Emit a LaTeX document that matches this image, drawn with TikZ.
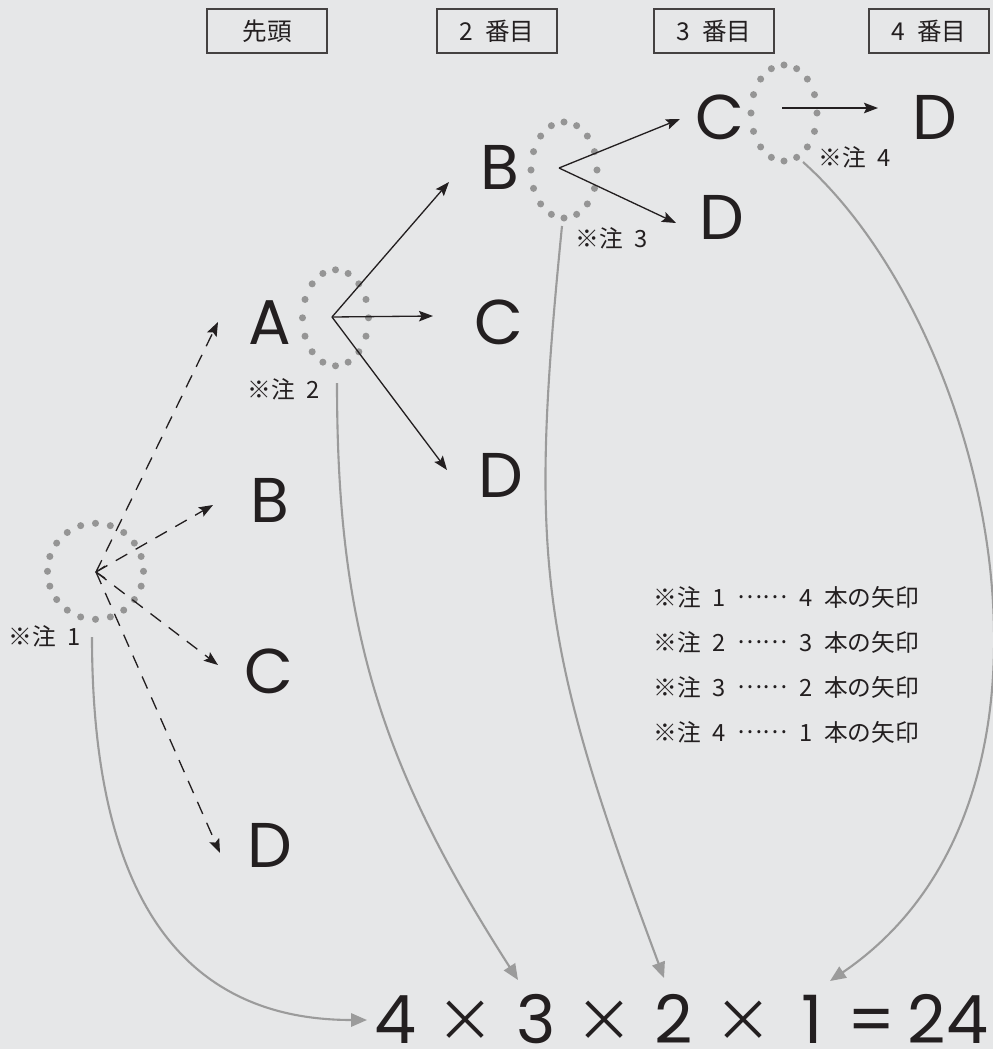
\documentclass[tikz,border=0pt]{standalone}
\usepackage{fontspec}
\usetikzlibrary{arrows.meta, calc}
\newfontfamily\jpfont[WordSpace=2.2]{Noto Sans CJK JP}
\newfontfamily\latinfont{Poppins}
\definecolor{bgc}{HTML}{E6E7E8}
\definecolor{ink}{HTML}{231F20}
\definecolor{dotc}{HTML}{959595}
\definecolor{linkc}{HTML}{9B9B9B}
\tikzset{
  ltr/.style={font=\latinfont\fontsize{36}{36}\selectfont, text=ink, inner sep=0pt},
  dig/.style={font=\latinfont\fontsize{38}{38}\selectfont, text=ink, inner sep=0pt, anchor=base},
  mul/.style={font=\jpfont\fontsize{33}{33}\selectfont, text=ink, inner sep=0pt},
  hdr/.style={draw=ink!85, line width=0.7pt, minimum width=2.4cm, minimum height=0.88cm, inner sep=0pt, font=\jpfont\fontsize{14}{14}\selectfont, text=ink},
  note/.style={font=\jpfont\fontsize{13.5}{13.5}\selectfont, text=ink, inner sep=0pt},
  fwd/.style={-{Stealth[length=8pt, width=6pt, inset=1.5pt]}, line width=0.75pt, draw=ink},
  cand/.style={fwd, dash pattern=on 7.5pt off 5.5pt},
  link/.style={-{Triangle[length=9pt, width=7.5pt]}, line width=1.2pt, draw=linkc}
}
% ring of grey dots: centre, x radius, y radius, number of dots
\newcommand{\dotring}[4]{%
  \foreach \k in {1,...,#4}
    \fill[dotc] ($(#1)+({#2*cos(360*\k/#4)},{#3*sin(360*\k/#4)})$) circle (2pt);
}
% six dots set at mid height
\newcommand{\midots}{\raisebox{0.3em}{……}}

\begin{document}
\begin{tikzpicture}[x=0.02cm, y=-0.02cm]
  \fill[bgc] (0,0) rectangle (993,1049);
  \useasboundingbox (0,0) rectangle (993,1049);
  % column headers
  \node[hdr] (h1) at (267,31) {先頭};
  \node[hdr] (h2) at (497,31) {2 番目};
  \node[hdr] (h3) at (714,31) {3 番目};
  \node[hdr] (h4) at (929,31) {4 番目};
  % letters
  \node[ltr] (a1) at (270,323) {A};
  \node[ltr] (b1) at (270,500) {B};
  \node[ltr] (c1) at (269,671) {C};
  \node[ltr] (d1) at (270,845) {D};
  \node[ltr] (b2) at (500,167) {B};
  \node[ltr] (c2) at (499,322) {C};
  \node[ltr] (d2) at (501,475) {D};
  \node[ltr] (c3) at (720,117) {C};
  \node[ltr] (d3) at (722,217) {D};
  \node[ltr] (d4) at (935,117) {D};
  % dotted rings
  \dotring{95.5,571.3}{48}{48}{20}
  \dotring{335.5,317.8}{33}{48}{16}
  \dotring{564,170}{33}{48}{16}
  \dotring{784,113}{33}{48}{16}
  % branch points
  \coordinate (f1) at (96,572);
  \coordinate (fA) at (332,317);
  \coordinate (fB) at (559,168);
  \coordinate (fC) at (782,108);
  \draw[ink, line width=0.6pt] ($(f1)+(9,-6)$) -- (f1) -- ($(f1)+(9,6)$);
  \draw[cand] (f1) -- ($(a1)+(-52,-1)$);
  \draw[cand] (f1) -- ($(b1)+(-57,5)$);
  \draw[cand] (f1) -- ($(c1)+(-51,-6)$);
  \draw[cand] (f1) -- ($(d1)+(-50,8)$);
  \draw[fwd] (fA) -- ($(b2)+(-51,15)$);
  \draw[fwd] (fA) -- ($(c2)+(-66,-6)$);
  \draw[fwd] (fA) -- ($(d2)+(-54,-5)$);
  \draw[fwd] (fB) -- ($(c3)+(-40,2)$);
  \draw[fwd] (fB) -- ($(d3)+(-46,6)$);
  \draw[fwd] (fC) -- ($(d4)+(-57,-9)$);
  % ring labels
  \node[note] (k1) at (45,636) {※注 1};
  \node[note] (k2) at (284,389) {※注 2};
  \node[note] (k3) at (612,238) {※注 3};
  \node[note] (k4) at (855,157) {※注 4};
  % legend
  \node[note, anchor=west] (m1) at (653,597) {※注 1 \midots{} 4 本の矢印};
  \node[note, anchor=west] (m2) at (653,642) {※注 2 \midots{} 3 本の矢印};
  \node[note, anchor=west] (m3) at (653,687) {※注 3 \midots{} 2 本の矢印};
  \node[note, anchor=west] (m4) at (653,732) {※注 4 \midots{} 1 本の矢印};
  % product
  \node[dig] (e4) at (395,1043) {4};
  \node[mul] (t1) at (465,1021) {×};
  \node[dig] (e3) at (536,1043) {3};
  \node[mul] (t2) at (604,1021) {×};
  \node[dig] (e2) at (674,1043) {2};
  \node[mul] (t3) at (743,1021) {×};
  \node[dig] (e1) at (812,1043) {1};
  \node[dig] (eq) at (872,1043) {=};
  \node[dig] (e24) at (948,1043) {24};
  % counts carried down to the product
  \coordinate (g1) at (92,637);
  \coordinate (g2) at (337,383);
  \coordinate (g3) at (562,226);
  \coordinate (g4) at (803,162);
  \draw[link] (g1) .. controls +(0,217) and +(-212,0) .. ($(e4.base)+(-28,-23)$);
  \draw[link] (g2) .. controls +(0,240) and +(-140,-218) .. ($(e3.base)+(-18,-63)$);
  \draw[link] (g3) .. controls +(-33,332) and +(-126,-337) .. ($(e2.base)+(-10,-65)$);
  \draw[link] (g4) .. controls +(190,170) and +(268,-182) .. ($(e1.base)+(18,-62)$);
\end{tikzpicture}
\end{document}
